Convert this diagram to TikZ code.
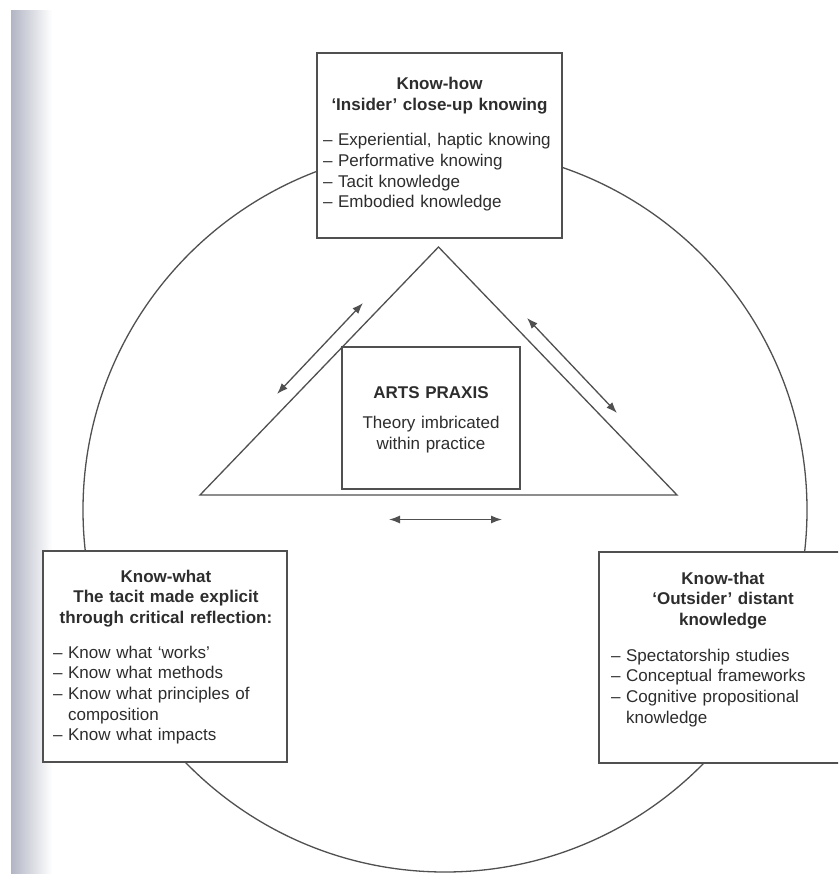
\documentclass[tikz,border=0pt]{standalone}
\usepackage{fontspec}
\setmainfont{Liberation Sans}
\usetikzlibrary{arrows.meta}
\definecolor{linecol}{RGB}{80,80,80}
\definecolor{textcol}{RGB}{45,45,45}
\definecolor{stripcol}{RGB}{178,181,196}
\definecolor{stripmid}{RGB}{228,230,239}
\tikzset{
  outline/.style={draw=linecol, line width=1.3pt},
  boxnode/.style={outline, fill=white, rectangle, inner sep=0pt},
  txt/.style={text=textcol, font=\fontsize{17}{20.7}\selectfont, inner sep=0pt, anchor=base},
  dbl/.style={draw=linecol, line width=1.3pt, {Latex[length=11pt,width=8pt]}-{Latex[length=11pt,width=8pt]}}
}
\begin{document}
\begin{tikzpicture}[x=1pt,y=-1pt]
\clip (0,0) rectangle (838,874);
\fill[white] (0,0) rectangle (838,874);
% scanned page edge
\shade[left color=stripcol, middle color=stripmid, right color=white, shading angle=90] (11,11) rectangle (52,874);

% circle
\coordinate (C) at (445,510);
\draw[outline] (C) circle[radius=362];

% triangle
\coordinate (T1) at (438.5,247);
\coordinate (T2) at (200,495);
\coordinate (T3) at (677,495);
\draw[outline, line join=miter] (T1) -- (T2) -- (T3) -- cycle;

% arrows
\coordinate (la1) at (277,394);
\coordinate (la2) at (363,303);
\coordinate (ra1) at (527,318);
\coordinate (ra2) at (617,413);
\coordinate (ba1) at (389,519.5);
\coordinate (ba2) at (502,519.5);
\draw[dbl] (la1) -- (la2);
\draw[dbl] (ra1) -- (ra2);
\draw[dbl] (ba1) -- (ba2);

% boxes
\node[boxnode, minimum width=245pt, minimum height=185pt] (knowhow) at (439.5,145.5) {};
\node[boxnode, minimum width=244pt, minimum height=211pt] (knowwhat) at (165,656.5) {};
\node[boxnode, minimum width=248pt, minimum height=211pt] (knowthat) at (723,657.5) {};
\node[boxnode, minimum width=178pt, minimum height=142pt] (praxis) at (431,418) {};

% texts
\node[txt, text width=233pt] (knowhowtext) at (439.5,90) {%
{\centering\bfseries Know-how\\ ‘Insider’ close-up knowing\par}%
\vspace{14.5pt}\raggedright
– Experiential, haptic knowing\\
– Performative knowing\\
– Tacit knowledge\\
– Embodied knowledge};

\node[txt, text width=226pt] (knowwhattext) at (166,582) {%
{\centering\bfseries Know-what\\ The tacit made explicit\\ through critical reflection:\par}%
\vspace{14pt}\raggedright
– Know what ‘works’\\
– Know what methods\\
– Know what principles of\\
\hphantom{– }composition\\
– Know what impacts};

\node[txt, text width=224pt] (knowthattext) at (723,584) {%
{\centering\bfseries Know-that\\ ‘Outsider’ distant\\ knowledge\par}%
\vspace{15pt}\raggedright
– Spectatorship studies\\
– Conceptual frameworks\\
– Cognitive propositional\\
\hphantom{– }knowledge};

\node[txt, text width=170pt, align=center] (praxistext) at (431,398) {%
\textbf{ARTS PRAXIS}\\[10pt]
Theory imbricated\\ within practice};
\end{tikzpicture}
\end{document}
